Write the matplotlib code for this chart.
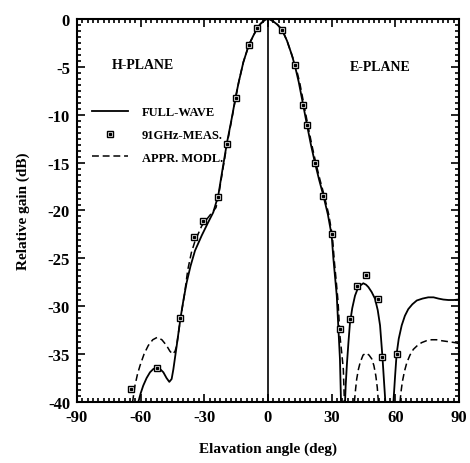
import numpy as np
import matplotlib.pyplot as plt
from matplotlib.ticker import MultipleLocator

plt.rcParams['font.family'] = ['Liberation Serif', 'DejaVu Serif']
plt.rcParams['axes.unicode_minus'] = False

# full-wave (solid) curve
fw_main_x = [-61.1, -60.0, -58.8, -57.2, -55.6, -54.0, -52.5, -50.9, -49.3, -47.8, -46.5,
             -45.4, -44.6, -43.0, -41.2, -39.8, -38.3, -36.5, -34.4, -31.2, -28.1, -25.8,
             -23.4, -21.5, -19.4, -17.1, -15.2, -13.8, -11.6, -9.0, -6.9, -5.0, -3.5, -2.0,
             -1.0, 0.0, 1.0, 2.5, 4.5, 6.7, 9.0, 11.0, 12.6, 14.5, 16.6, 18.4, 20.2,
             22.1, 24.1, 26.1, 28.2, 30.0, 30.8, 31.7, 32.4, 33.1, 33.9, 34.4]
fw_main_y = [-40.0, -39.1, -38.3, -37.5, -36.9, -36.55, -36.4, -36.55, -36.9, -37.5, -37.9,
             -37.6, -36.6, -34.1, -31.2, -29.3, -27.5, -25.8, -24.2, -22.6, -21.2, -20.2,
             -18.4, -15.8, -13.0, -10.4, -8.1, -6.6, -4.5, -2.7, -1.74, -0.94, -0.5, -0.2,
             -0.05, 0.0, -0.05, -0.25, -0.6, -1.15, -2.3, -3.6, -4.8, -6.6, -9.0, -11.1, -13.1,
             -15.0, -16.8, -18.45, -20.4, -22.6, -25.0, -27.2, -28.9, -32.0, -35.5, -40.0]
fw_lobe2_x = [36.3, 36.6, 37.2, 37.9, 38.6, 39.7, 41.0, 42.2, 43.4, 44.9, 46.2, 47.3,
              48.8, 50.4, 51.7, 52.8, 53.9, 54.8, 55.3]
fw_lobe2_y = [-40.0, -38.3, -36.0, -33.8, -31.8, -30.2, -28.9, -28.2, -27.85, -27.6, -27.75, -28.0,
              -28.5, -29.2, -30.4, -32.0, -35.2, -38.3, -40.0]
fw_lobe3_x = [59.1, 59.9, 60.6, 61.6, 63.0, 64.5, 66.1, 68.0, 70.1, 72.8, 75.5, 78.0,
              80.3, 82.6, 85.0, 87.5, 90.0]
fw_lobe3_y = [-40.0, -37.25, -35.0, -33.4, -32.0, -31.0, -30.3, -29.8, -29.4, -29.2, -29.07, -29.07,
              -29.2, -29.3, -29.35, -29.35, -29.3]

# approximate model (dashed)
am_main_x = [-63.8, -62.7, -61.5, -60.3, -58.4, -56.4, -54.3, -52.2, -50.0, -47.8, -46.2,
             -44.9, -43.8, -43.0, -41.2, -39.5, -37.8, -36.1, -34.4, -31.2, -28.1, -24.5,
             -23.4, -21.5, -19.4, -17.1, -15.2, -13.8, -11.6, -9.0, -6.9, -5.0, -3.5, -2.0,
             -1.0, 0.0, 1.0, 2.5, 4.5, 6.7, 9.0, 11.0, 12.9, 14.9, 17.0, 18.8, 20.6,
             22.5, 24.5, 26.5, 28.6, 30.3, 31.3, 32.2, 33.0, 33.9, 34.8, 35.5, 36.0]
am_main_y = [-40.0, -38.3, -37.1, -36.2, -35.0, -34.1, -33.5, -33.25, -33.5, -34.1, -34.7,
             -35.0, -34.7, -34.1, -31.2, -29.0, -26.2, -24.4, -23.2, -21.6, -20.7, -19.7,
             -18.6, -16.0, -13.2, -10.5, -8.2, -6.6, -4.5, -2.7, -1.74, -0.94, -0.5, -0.2,
             -0.05, 0.0, -0.05, -0.25, -0.6, -1.15, -2.3, -3.6, -4.8, -6.6, -9.0, -11.1, -13.1,
             -15.0, -16.8, -18.45, -20.4, -22.6, -25.4, -27.5, -29.5, -33.1, -35.0, -36.6, -40.0]
am_lobe2_x = [40.7, 41.3, 41.8, 42.6, 43.4, 44.8, 46.2, 47.6, 48.9, 49.9, 50.8, 51.5, 52.0]
am_lobe2_y = [-40.0, -38.6, -37.6, -36.6, -35.9, -35.1, -34.9, -35.1, -35.5, -36.2, -37.25, -38.5, -40.0]
am_lobe3_x = [62.2, 62.7, 63.3, 64.3, 65.4, 66.9, 68.5, 70.4, 72.4, 74.7, 77.1, 79.4,
              81.8, 85.0, 88.1, 90.0]
am_lobe3_y = [-40.0, -38.9, -37.9, -36.8, -35.9, -35.1, -34.5, -34.1, -33.8, -33.6, -33.5, -33.5,
              -33.6, -33.7, -33.8, -33.9]

# 91 GHz measurements
meas_x = [-64.7, -52.5, -41.3, -34.7, -30.8, -23.5, -19.3, -15.2, -9.0, -5.0,
          6.7, 12.6, 16.6, 18.4, 22.1, 26.1, 30.0, 33.9, 38.6, 41.8, 46.0, 51.6, 53.9, 60.7]
meas_y = [-38.6, -36.5, -31.2, -22.8, -21.1, -18.55, -13.05, -8.2, -2.7, -0.94,
          -1.15, -4.8, -9.0, -11.1, -15.0, -18.45, -22.5, -32.4, -31.3, -27.9, -26.75, -29.2, -35.25, -35.0]

fig = plt.figure(figsize=(4.7, 4.64), dpi=100)
ax = fig.add_axes([0.1638, 0.1315, 0.8128, 0.8254])

lw = 1.3
dash = (0, (4.5, 2.5))
l_fw, = ax.plot(fw_main_x, fw_main_y, color='black', lw=lw)
ax.plot(fw_lobe2_x, fw_lobe2_y, color='black', lw=lw)
ax.plot(fw_lobe3_x, fw_lobe3_y, color='black', lw=lw)
l_am, = ax.plot(am_main_x, am_main_y, color='black', lw=1.1, linestyle=dash)
ax.plot(am_lobe2_x, am_lobe2_y, color='black', lw=1.1, linestyle=dash)
ax.plot(am_lobe3_x, am_lobe3_y, color='black', lw=1.1, linestyle=dash)

m_sq, = ax.plot(meas_x, meas_y, linestyle='none', marker='s', markersize=4.8,
                markerfacecolor='white', markeredgecolor='black', markeredgewidth=1.0, zorder=4)
m_dot, = ax.plot(meas_x, meas_y, linestyle='none', marker='s', markersize=1.4,
                 color='black', zorder=5)

ax.axvline(0, color='black', lw=1.2)

ax.set_xlim(-90, 90)
ax.set_ylim(-40, 0)
ax.xaxis.set_major_locator(MultipleLocator(30))
ax.xaxis.set_minor_locator(MultipleLocator(2.5))
ax.yaxis.set_major_locator(MultipleLocator(5))
ax.yaxis.set_minor_locator(MultipleLocator(0.625))
ax.tick_params(which='both', direction='in', top=True, right=True, width=1.2)
ax.tick_params(which='major', length=6, labelsize=12, pad=5)
ax.tick_params(which='minor', length=3)
for lab in ax.get_xticklabels() + ax.get_yticklabels():
    lab.set_fontweight('bold')
for s in ax.spines.values():
    s.set_linewidth(1.5)

ax.set_xlabel('Elavation angle (deg)', fontsize=11, fontweight='bold', labelpad=12)
ax.set_ylabel('Relative gain (dB)', fontsize=11, fontweight='bold', labelpad=13)

ax.text(-58.9, -4.8, 'H-PLANE', fontsize=10, fontweight='bold', ha='center', va='center')
ax.text(52.8, -5.0, 'E-PLANE', fontsize=10, fontweight='bold', ha='center', va='center')

ax.legend([l_fw, (m_sq, m_dot), l_am], ['FULL-WAVE', '91GHz-MEAS.', 'APPR. MODL.'],
          loc='upper left', bbox_to_anchor=(0.039, 0.772), frameon=False,
          prop={'size': 9, 'weight': 'bold'}, handlelength=2.9, handletextpad=1.1,
          labelspacing=0.85, borderpad=0, borderaxespad=0)

fig.savefig('out.png', dpi=100)
